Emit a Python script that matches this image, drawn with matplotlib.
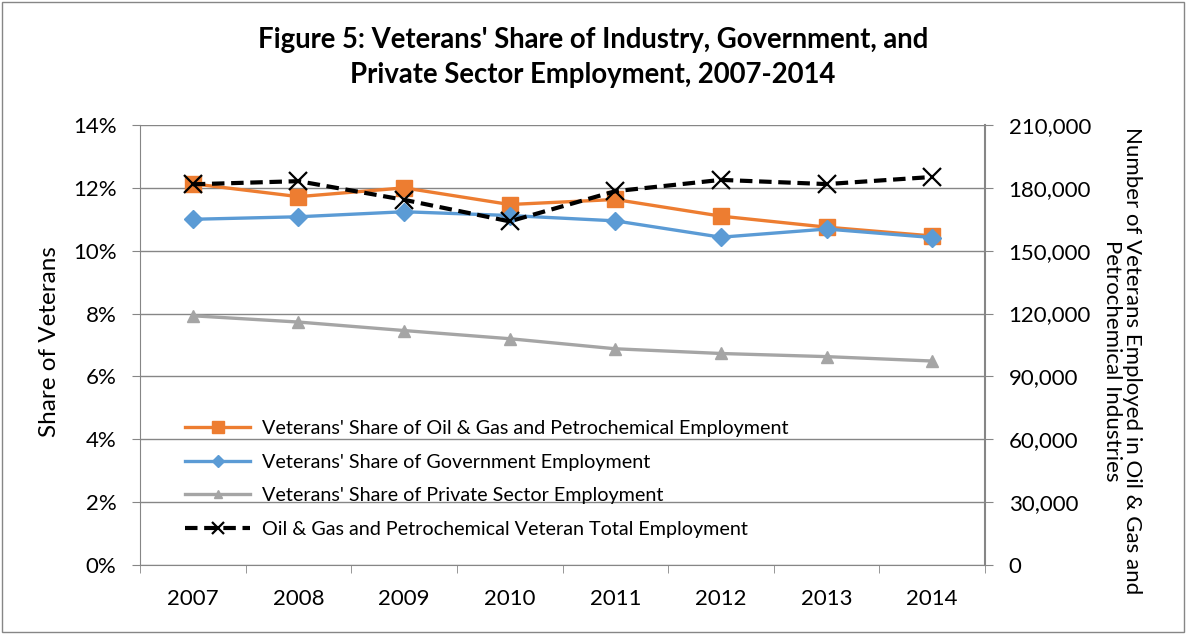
import matplotlib.pyplot as plt
import matplotlib.ticker as mticker
from matplotlib.patches import Rectangle

plt.rcParams['font.family'] = ['Lato', 'DejaVu Sans']

years = ['2007', '2008', '2009', '2010', '2011', '2012', '2013', '2014']
oil_gas_share = [12.13, 11.72, 12.0, 11.47, 11.63, 11.1, 10.75, 10.47]
government_share = [11.0, 11.08, 11.24, 11.12, 10.95, 10.43, 10.69, 10.42]
private_share = [7.93, 7.73, 7.46, 7.2, 6.88, 6.73, 6.63, 6.49]
oil_gas_total = [181700, 183200, 174300, 164000, 178400, 183800, 181800, 185200]

labels = ["Veterans' Share of Oil & Gas and Petrochemical Employment",
          "Veterans' Share of Government Employment",
          "Veterans' Share of Private Sector Employment",
          "Oil & Gas and Petrochemical Veteran Total Employment"]

W, H = 1186, 634
fig = plt.figure(figsize=(W / 100, H / 100), dpi=100)
ax = fig.add_axes([140 / W, 69 / H, 845 / W, 440 / H])
ax2 = ax.twinx()

x = list(range(len(years)))
h1, = ax.plot(x, oil_gas_share, color='#ED7D31', lw=2.4, marker='s', ms=12, label=labels[0])
h2, = ax.plot(x, government_share, color='#5B9BD5', lw=2.4, marker='D', ms=9, label=labels[1])
h3, = ax.plot(x, private_share, color='#A5A5A5', lw=2.4, marker='^', ms=9, label=labels[2])
h4, = ax2.plot(x, oil_gas_total, color='black', lw=3, ls=(0, (3, 1.6)), marker='x', ms=13, mew=1.6,
               label=labels[3])

ax.set_xlim(-0.5, len(years) - 0.5)
ax.set_ylim(0, 14)
ax2.set_ylim(0, 210000)
ax.set_yticks(range(0, 15, 2))
ax.yaxis.set_major_formatter(mticker.FuncFormatter(lambda v, p: f'{v:.0f}%'))
ax2.set_yticks(range(0, 210001, 30000))
ax2.yaxis.set_major_formatter(mticker.FuncFormatter(lambda v, p: f'{v:,.0f}'))

ax.set_xticks(x)
ax.set_xticklabels(years)
ax.set_xticks([i - 0.5 for i in range(len(years) + 1)], minor=True)
ax.tick_params(axis='x', which='major', length=0, labelsize=16, pad=17)
ax.tick_params(axis='x', which='minor', length=6, color='#868686', direction='out')
ax.tick_params(axis='y', length=6, color='#868686', labelsize=16, pad=11)
ax2.tick_params(axis='y', length=6, color='#868686', labelsize=16, pad=11)

ax.grid(axis='y', color='#868686', lw=1)
ax.set_axisbelow(True)
for s in ['top', 'right']:
    ax.spines[s].set_visible(False)
for s in ['top', 'left', 'bottom']:
    ax2.spines[s].set_visible(False)
ax.spines['bottom'].set_color('#868686')
ax.spines['left'].set_color('#868686')
ax2.spines['right'].set_color('#868686')
ax2.spines['right'].set_linewidth(1.5)

fig.text(50 / W, 1 - 342 / H, 'Share of Veterans', rotation=90, ha='center', va='center', fontsize=17.5)
fig.text(1122 / W, 1 - 361 / H, 'Number of Veterans Employed in Oil & Gas and\nPetrochemical Industries',
         rotation=-90, ha='center', va='center', fontsize=16, linespacing=1.05)

fig.text(0.5, 1 - 57.5 / H, "Figure 5: Veterans' Share of Industry, Government, and\nPrivate Sector Employment, 2007-2014",
         ha='center', va='center', fontsize=19.8, fontweight='bold', linespacing=1.42)

ax2.legend(handles=[h1, h2, h3, h4], loc='upper left', bbox_to_anchor=(0.044, 0.348),
           frameon=False, fontsize=14.2, handlelength=3.3, labelspacing=0.85, markerscale=0.7,
           borderaxespad=0, handletextpad=0.6)

fig.patches.append(Rectangle((0.002, 0.003), 0.996, 0.994, transform=fig.transFigure,
                             fill=False, edgecolor='#868686', lw=1))

fig.savefig('out.png', dpi=100)
